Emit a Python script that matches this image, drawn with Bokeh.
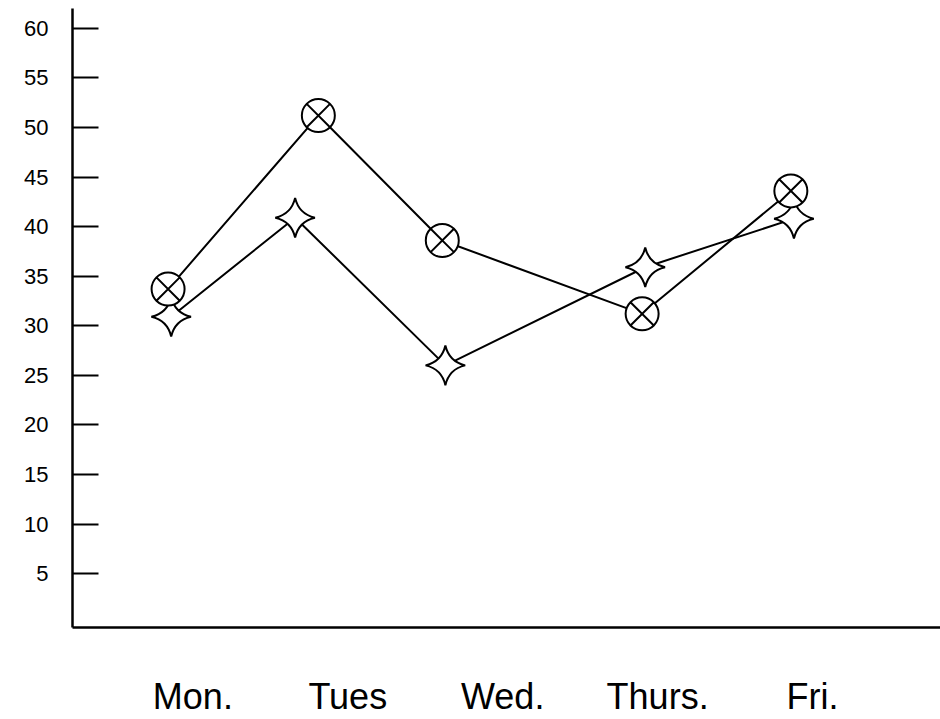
import math
from bokeh.plotting import figure
from bokeh.models import Range1d, FixedTicker
from bokeh.embed import file_html
from bokeh.resources import INLINE

# ---- data ----
days = ["Mon.", "Tues", "Wed.", "Thurs.", "Fri."]
y_ticks = [5, 10, 15, 20, 25, 30, 35, 40, 45, 50, 55, 60]

# position of each point along the day axis (0 = Mon. ... 4 = Fri.)
circle_pos = [-0.16, 0.81, 1.61, 2.90, 3.86]
circle_vals = [33.7, 51.2, 38.6, 31.2, 43.6]

star_pos = [-0.14, 0.66, 1.63, 2.92, 3.88]
star_vals = [30.9, 40.9, 26.0, 35.9, 40.8]

FONT = "Liberation Sans"

p = figure(
    width=940, height=719,
    x_range=Range1d(-0.777, 4.826),
    y_range=Range1d(-0.44, 62.0),
    toolbar_location=None, output_backend="svg",
    min_border_left=72, min_border_right=0,
    min_border_top=8, min_border_bottom=89,
)
p.outline_line_color = None
p.xgrid.visible = False
p.ygrid.visible = False
p.background_fill_color = "white"
p.border_fill_color = "white"

# y axis
ya = p.yaxis[0]
ya.ticker = FixedTicker(ticks=y_ticks)
ya.axis_line_color = "black"
ya.axis_line_width = 2.5
ya.major_tick_in = 26
ya.major_tick_out = 0
ya.major_tick_line_width = 2
ya.major_tick_line_color = "black"
ya.minor_tick_line_color = None
ya.major_label_standoff = 24
ya.major_label_text_font = FONT
ya.major_label_text_font_size = "22px"
ya.major_label_text_color = "black"

# x axis
xa = p.xaxis[0]
xa.ticker = FixedTicker(ticks=list(range(len(days))))
xa.major_label_overrides = {i: d for i, d in enumerate(days)}
xa.axis_line_color = "black"
xa.axis_line_width = 2.5
xa.major_tick_in = 0
xa.major_tick_out = 0
xa.major_tick_line_color = None
xa.minor_tick_line_color = None
xa.major_label_standoff = 48
xa.major_label_text_font = FONT
xa.major_label_text_font_size = "36px"
xa.major_label_text_color = "black"

# series lines
p.line(circle_pos, circle_vals, line_color="black", line_width=2)
p.line(star_pos, star_vals, line_color="black", line_width=2)

# markers
p.scatter(star_pos, star_vals, marker="square_pin", size=28, angle=math.pi / 4,
          fill_color="white", line_color="black", line_width=2)
p.scatter(circle_pos, circle_vals, marker="circle_x", size=33,
          fill_color="white", line_color="black", line_width=2)

open("out.html", "w").write(file_html(p, INLINE))
